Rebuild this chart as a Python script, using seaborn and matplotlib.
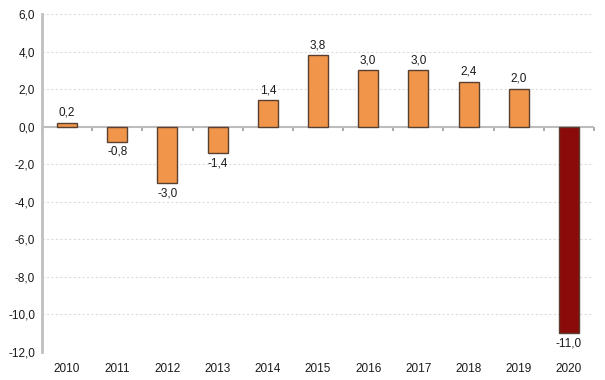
import matplotlib
matplotlib.use("Agg")
import matplotlib.pyplot as plt
import seaborn as sns
import pandas as pd
import numpy as np

years = ["2010", "2011", "2012", "2013", "2014", "2015", "2016", "2017", "2018", "2019", "2020"]
values = [0.2, -0.8, -3.0, -1.4, 1.4, 3.8, 3.0, 3.0, 2.4, 2.0, -11.0]
groups = ["past"] * 10 + ["latest"]
yticks = [-12, -10, -8, -6, -4, -2, 0, 2, 4, 6]

sns.set_theme(style="white")
plt.rcParams["font.family"] = ["Liberation Sans", "DejaVu Sans"]

df = pd.DataFrame({"year": years, "value": values, "group": groups})

fig = plt.figure(figsize=(6.05, 3.8), dpi=100)
ax = fig.add_axes([42 / 605, 28 / 380, 552 / 605, 338 / 380])

palette = {"past": "#F0954A", "latest": "#8B0A0A"}
sns.barplot(data=df, x="year", y="value", hue="group", palette=palette,
            width=0.4, dodge=False, legend=False, ax=ax, saturation=1,
            edgecolor="#5a4030", linewidth=1.0, zorder=2)

ymin, ymax = -12, 6
ax.set_ylim(ymin, ymax)
ax.set_xlim(-0.5, len(years) - 0.5)
ax.set_yticks(yticks)
ax.set_yticklabels([f"{t:.1f}".replace(".", ",") for t in yticks], fontsize=8.5, color="#1a1a1a")
ax.set_xlabel("")
ax.set_ylabel("")

for t in yticks:
    if t != 0:
        ax.axhline(t, color="#dcdcdc", lw=0.8, ls=(0, (2, 2)), zorder=0)
ax.axhline(0, color="#bdbdbd", lw=1.5, zorder=1)

for s in ["top", "right", "bottom"]:
    ax.spines[s].set_visible(False)
ax.spines["left"].set_color("#c0c0c0")
ax.spines["left"].set_linewidth(2)

ax.tick_params(axis="y", length=3, color="#c0c0c0", pad=2)
ax.tick_params(axis="x", length=0, pad=8, labelsize=8.5, labelcolor="#1a1a1a")

# small ticks on the zero line between categories
sec = ax.secondary_xaxis((0 - ymin) / (ymax - ymin))
sec.set_xticks(np.arange(len(years) + 1) - 0.5)
sec.xaxis.set_ticklabels([])
sec.xaxis.set_ticks_position("bottom")
sec.tick_params(axis="x", length=3, color="#a0a0a0", direction="out")
sec.spines["bottom"].set_visible(False)
sec.spines["top"].set_visible(False)

for i, v in enumerate(values):
    lab = f"{v:.1f}".replace(".", ",")
    if v >= 0:
        ax.annotate(lab, (i, v), xytext=(0, 3), textcoords="offset points",
                    ha="center", va="bottom", fontsize=8.5, color="#1a1a1a")
    else:
        ax.annotate(lab, (i, v), xytext=(0, -3), textcoords="offset points",
                    ha="center", va="top", fontsize=8.5, color="#1a1a1a")

fig.savefig("out.png", dpi=100)
